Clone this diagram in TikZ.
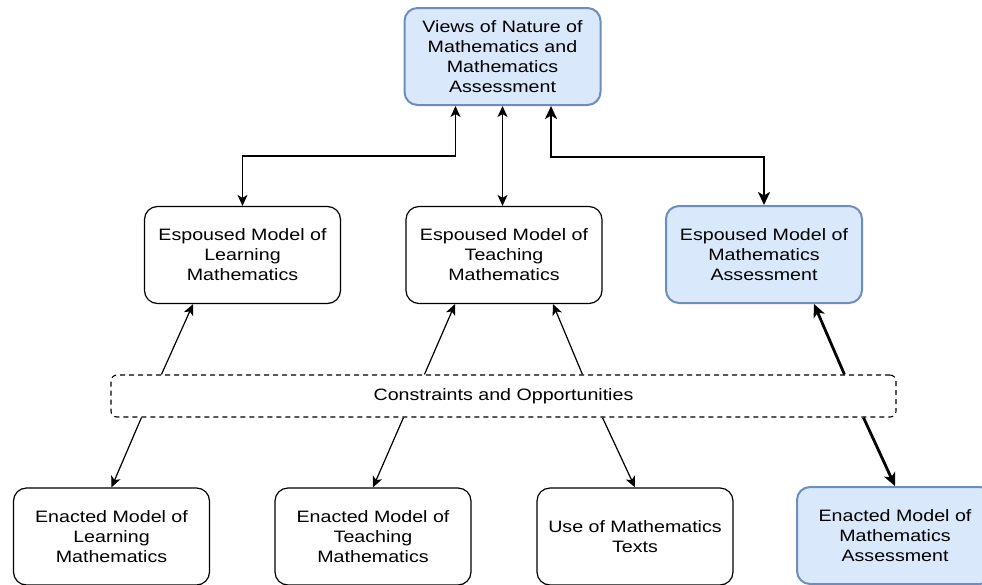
\documentclass[tikz,border=0pt]{standalone}
\usepackage{fontspec}
\setmainfont{Liberation Sans}[FakeStretch=1.19]
\usetikzlibrary{arrows.meta}
\definecolor{bfill}{HTML}{DAE8FC}
\definecolor{bline}{HTML}{6C8EBF}
\tikzset{
  box/.style={draw=black, line width=1.2pt, rounded corners=13pt, fill=white,
    minimum width=196pt, minimum height=97pt, inner sep=0pt, align=center,
    font=\fontsize{16.5}{20}\selectfont},
  bluebox/.style={box, draw=bline, fill=bfill, line width=2pt},
  consbox/.style={draw=black, line width=1.1pt, dash pattern=on 5pt off 4pt, rounded corners=6pt,
    minimum width=785pt, minimum height=42pt, inner sep=0pt,
    font=\fontsize{16.5}{20}\selectfont},
  link/.style={line width=1.2pt, -{Stealth[length=11pt,width=10pt,inset=3pt]}},
  dlink/.style={line width=1.2pt, {Stealth[length=11pt,width=10pt,inset=3pt]}-{Stealth[length=11pt,width=10pt,inset=3pt]}},
  tlink/.style={line width=2.8pt, -{Stealth[length=13pt,width=12pt,inset=3.5pt]}},
  tdlink/.style={line width=2.8pt, {Stealth[length=13pt,width=12pt,inset=3.5pt]}-{Stealth[length=13pt,width=12pt,inset=3.5pt]}},
}
\begin{document}
\begin{tikzpicture}[x=1pt,y=-1pt]
\clip (0,0) rectangle (982,584);
\fill[white] (0,0) rectangle (982,584);
\node[bluebox] (top) at (502.5,56.5) {Views of Nature of\\Mathematics and\\Mathematics\\Assessment};
\node[box] (espL) at (242.5,255) {Espoused Model of\\Learning\\Mathematics};
\node[box] (espT) at (504,255) {Espoused Model of\\Teaching\\Mathematics};
\node[bluebox] (espA) at (764,254.5) {Espoused Model of\\Mathematics\\Assessment};
\node[consbox] (cons) at (503.5,396) {Constraints and Opportunities};
\node[box] (enL) at (111.5,536.5) {Enacted Model of\\Learning\\Mathematics};
\node[box] (enT) at (373,536.5) {Enacted Model of\\Teaching\\Mathematics};
\node[box] (txt) at (635,536.5) {Use of Mathematics\\Texts};
\node[bluebox] (enA) at (895,535.5) {Enacted Model of\\Mathematics\\Assessment};

\draw[dlink] ([xshift=-47pt]top.south) -- ++(0,50) -| (espL.north);
\draw[dlink] (top.south) -- (top.south |- espT.north);
\draw[tdlink] ([xshift=48.5pt]top.south) -- ++(0,51) -| (espA.north);

\draw[link] ([xshift=51pt]cons.north west) -- ([xshift=-49.5pt]espL.south);
\draw[link] ([xshift=31pt]cons.south west) -- (enL.north);
\draw[link] ([xshift=314pt]cons.north west) -- ([xshift=-49pt]espT.south);
\draw[link] ([xshift=472pt]cons.north west) -- ([xshift=49pt]espT.south);
\draw[link] ([xshift=293pt]cons.south west) -- (enT.north);
\draw[link] ([xshift=492pt]cons.south west) -- (txt.north);
\draw[tlink] ([xshift=734pt]cons.north west) -- ([xshift=50pt]espA.south);
\draw[tlink] ([xshift=753pt]cons.south west) -- (enA.north);
\end{tikzpicture}
\end{document}
